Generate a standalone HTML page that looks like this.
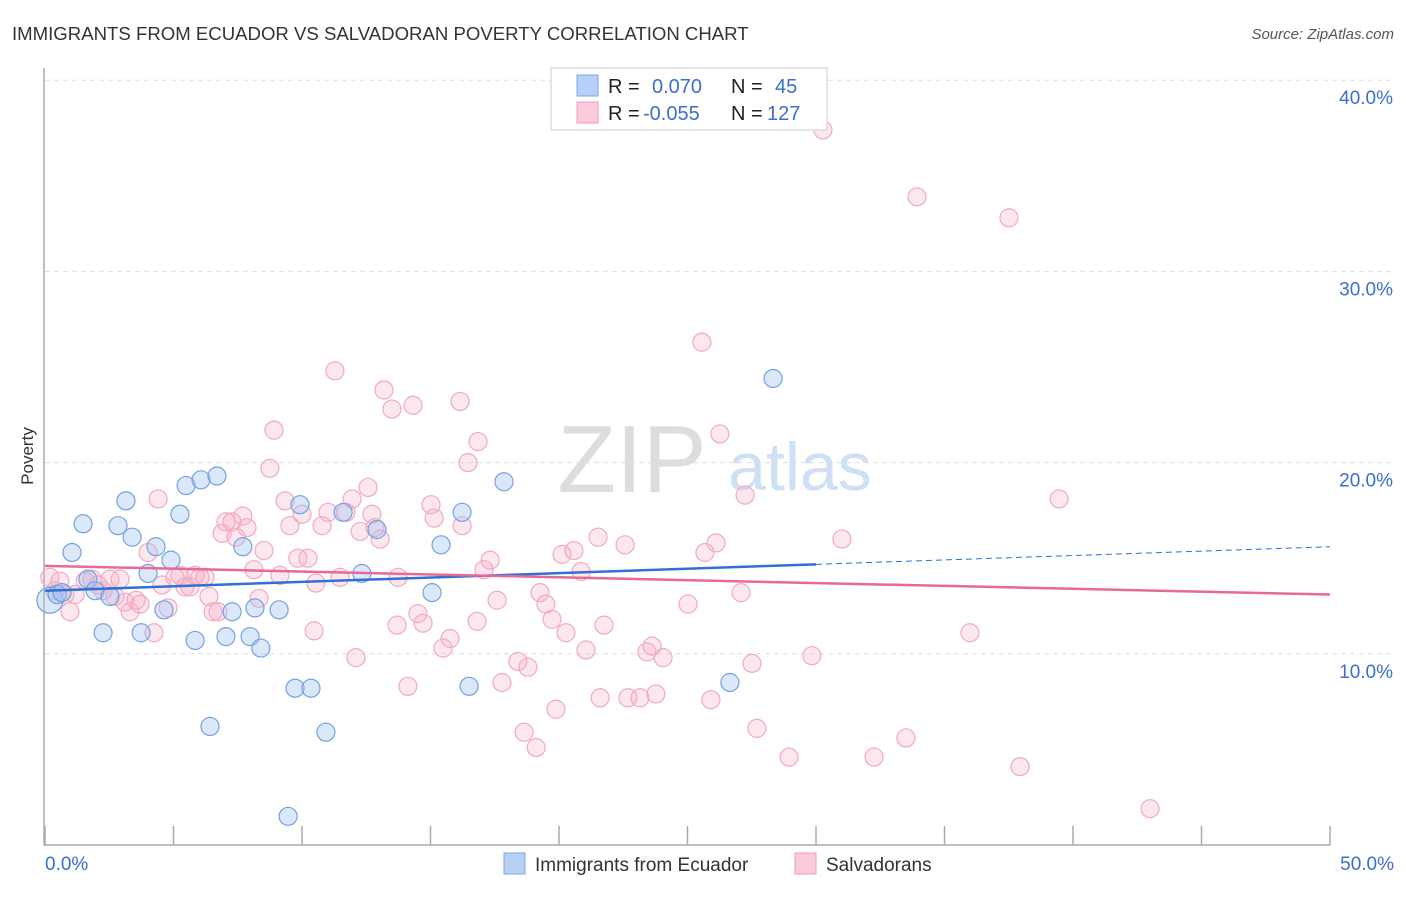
<!DOCTYPE html>
<html><head><meta charset="utf-8"><style>
body{margin:0;background:#fff;font-family:"Liberation Sans",sans-serif}
svg text{font-family:"Liberation Sans",sans-serif}
</style></head><body>
<svg id="chart" width="1406" height="892" xmlns="http://www.w3.org/2000/svg">
<text x="12" y="40" font-size="18.6" fill="#333">IMMIGRANTS FROM ECUADOR VS SALVADORAN POVERTY CORRELATION CHART</text>
<text x="1394" y="39" font-size="15" fill="#555" font-style="italic" text-anchor="end">Source: ZipAtlas.com</text>
<text x="632" y="492" font-size="96" fill="#ddd" font-family="Liberation Serif,serif" text-anchor="middle">ZIP</text>
<text x="800" y="490" font-size="68" fill="#cfe0f5" text-anchor="middle">atlas</text>
<g id="grid"></g><g id="axes"></g><g id="pts"></g><g id="lines"></g>
<text transform="translate(33,456) rotate(-90)" font-size="17" fill="#333" text-anchor="middle">Poverty</text>
<g>
<rect x="551" y="68" width="276" height="62" fill="#fff" stroke="#ddd" stroke-width="1.5"/>
<rect x="577" y="75" width="21" height="21" fill="#b7d0f5" stroke="#7da6e6"/>
<rect x="577" y="102" width="21" height="21" fill="#fbcadb" stroke="#f09ab8"/>
<text x="608" y="93" font-size="20" fill="#222">R = </text><text x="652" y="93" font-size="20" fill="#3a6fd0">0.070</text>
<text x="731" y="93" font-size="20" fill="#222">N = </text><text x="775" y="93" font-size="20" fill="#3a6fd0">45</text>
<text x="608" y="120" font-size="20" fill="#222">R = </text><text x="643" y="120" font-size="20" fill="#3a6fd0">-0.055</text>
<text x="731" y="120" font-size="20" fill="#222">N = </text><text x="767" y="120" font-size="20" fill="#3a6fd0">127</text>
</g>
<g>
<rect x="504" y="853" width="21" height="21" fill="#b7d0f5" stroke="#7da6e6"/>
<text x="535" y="871" font-size="19" fill="#333">Immigrants from Ecuador</text>
<rect x="795" y="853" width="21" height="21" fill="#fbcadb" stroke="#f09ab8"/>
<text x="826" y="871" font-size="19" fill="#333">Salvadorans</text>
</g>
</svg>
<script>
const blueX=[0.19,0.47,0.66,1.05,1.48,1.67,1.95,2.26,2.53,2.84,3.15,3.39,3.74,4.01,4.32,4.63,4.90,5.25,5.49,5.84,6.07,6.42,6.69,7.04,7.28,7.70,7.98,8.17,8.40,9.11,9.73,9.92,10.35,10.93,11.60,12.33,12.92,15.06,15.41,16.23,16.50,17.86,26.65,28.33,9.46];
const blueY=[12.8,13.1,13.2,15.3,16.8,13.9,13.3,11.1,13.0,16.7,18.0,16.1,11.1,14.2,15.6,12.3,14.9,17.3,18.8,10.7,19.1,6.2,19.3,10.9,12.2,15.6,10.9,12.4,10.3,12.3,8.2,17.8,8.2,5.9,17.4,14.2,16.5,13.2,15.7,17.4,8.3,19.0,8.5,24.4,1.5];
const pinkX=[0.19,0.39,0.58,0.78,0.97,1.17,1.56,1.83,2.06,2.26,2.53,2.72,2.92,3.11,3.31,3.54,3.70,4.01,4.24,4.40,4.55,4.79,5.06,5.25,5.45,5.64,5.84,6.03,6.23,6.38,6.54,6.73,6.89,7.04,7.28,7.43,7.70,7.86,8.13,8.33,8.52,8.75,8.91,9.14,9.34,9.53,9.84,10.00,10.23,10.47,10.54,10.78,11.01,11.28,11.48,11.71,11.95,12.10,12.26,12.57,12.72,12.84,13.04,13.19,13.50,13.74,13.70,14.12,14.32,14.51,14.71,15.02,15.14,15.49,15.76,16.15,16.23,16.46,16.81,16.85,17.08,17.32,17.59,17.78,18.40,18.79,18.64,19.11,19.26,19.49,19.73,19.88,20.12,20.27,20.58,20.86,21.05,21.52,21.60,21.75,22.57,22.68,23.15,23.42,23.62,23.77,24.05,25.02,25.56,25.68,25.91,26.11,26.26,27.08,27.24,27.51,27.70,28.95,29.84,30.27,31.01,32.26,33.50,33.93,35.99,37.51,37.94,39.46,43.00];
const pinkY=[14.0,13.3,13.8,13.1,12.2,13.1,13.8,13.9,13.6,13.3,13.9,13.0,13.9,12.7,12.2,12.8,12.6,15.3,11.1,18.1,13.6,12.4,14.0,14.1,13.5,13.5,14.1,14.0,14.0,13.0,12.2,12.2,16.3,16.9,16.9,16.1,17.2,16.6,14.4,12.9,15.4,19.7,21.7,14.1,18.0,16.7,15.0,17.3,15.0,11.2,13.7,16.7,17.4,24.8,14.0,17.4,18.1,9.8,16.4,18.7,17.3,16.6,16.0,23.8,22.8,14.0,11.5,8.3,23.0,12.1,11.6,17.8,17.1,10.3,10.8,23.2,16.7,20.0,11.7,21.1,14.4,14.9,12.8,8.5,9.6,9.3,5.9,5.1,13.2,12.6,11.8,7.1,15.2,11.1,15.4,14.3,10.2,16.1,7.7,11.5,15.7,7.7,7.7,10.1,10.4,7.9,9.8,12.6,26.3,15.3,7.6,15.8,21.5,13.2,18.3,9.5,6.1,4.6,9.9,37.4,16.0,4.6,5.6,33.9,11.1,32.8,4.1,18.1,1.9];
const yTicks=[10,20,30,40];
const yTickLabels=["10.0%","20.0%","30.0%","40.0%"];
const xTicks=[0,5,10,15,20,25,30,35,40,45,50];
const blueTrend=[13.3,15.6];const blueSolidEnd=30;
const pinkTrend=[14.6,13.1];
const NS="http://www.w3.org/2000/svg";
const sx=v=>45+v*25.7, sy=v=>845-v*19.12;
function mk(t,a,p){const e=document.createElementNS(NS,t);for(const k in a)e.setAttribute(k,a[k]);p.appendChild(e);return e;}
const grid=document.getElementById('grid'),axes=document.getElementById('axes'),pts=document.getElementById('pts'),lines=document.getElementById('lines');
yTicks.forEach((v,i)=>{
 const g=mk('line',{x1:45,x2:1394,y1:sy(v),y2:sy(v),stroke:'#ddd','stroke-dasharray':'5,4'},grid);
 
 
 const t=mk('text',{x:1393,y:sy(v)+24,'font-size':19,fill:'#3a6fd0','text-anchor':'end'},axes);
 t.textContent=yTickLabels[i];
 
 
});
const ax=mk('path',{d:'M44,68V845H1330',fill:'none',stroke:'#aaa','stroke-width':1.5},axes);


xTicks.forEach(v=>{const l=mk('line',{x1:sx(v),x2:sx(v),y1:826,y2:845,stroke:'#aaa','stroke-width':1.5},axes);
 
 });
const x0=mk('text',{x:45,y:870,'font-size':19,fill:'#3a6fd0'},axes);x0.textContent='0.0%';


const x1=mk('text',{x:1394,y:870,'font-size':19,fill:'#3a6fd0','text-anchor':'end'},axes);x1.textContent='50.0%';


pinkX.forEach((x,i)=>{const c=mk('circle',{cx:sx(x),cy:sy(pinkY[i]),r:9,fill:'rgba(247,175,200,0.3)',stroke:'#f0aac2','stroke-width':1.2},pts);
 
 });
blueX.forEach((x,i)=>{const c=mk('circle',{cx:sx(x),cy:sy(blueY[i]),r:i==0?13:9,fill:'rgba(160,195,242,0.38)',stroke:'#73a2e2','stroke-width':1.2},pts);
 
 });
const by=x=>blueTrend[0]+(blueTrend[1]-blueTrend[0])*x/50;
const bl=mk('line',{x1:sx(0),y1:sy(by(0)),x2:sx(blueSolidEnd),y2:sy(by(blueSolidEnd)),stroke:'#2f6fd6','stroke-width':2.5},lines);


const bd=mk('line',{x1:sx(blueSolidEnd),y1:sy(by(blueSolidEnd)),x2:sx(50),y2:sy(by(50)),stroke:'#2f6fd6','stroke-width':1,'stroke-dasharray':'6,4'},lines);


const pl=mk('line',{x1:sx(0),y1:sy(pinkTrend[0]),x2:sx(50),y2:sy(pinkTrend[1]),stroke:'#e8689a','stroke-width':2.5},lines);


</script>
</body></html>
